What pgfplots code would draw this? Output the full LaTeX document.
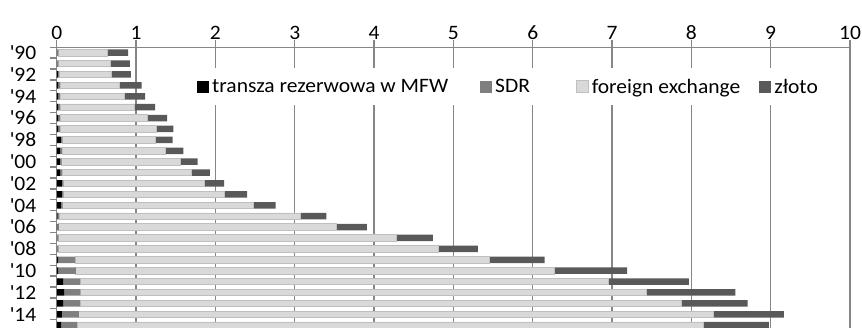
\documentclass[border=0pt]{standalone}
\usepackage{fontspec}
\setmainfont[FakeStretch=1.05]{Carlito}
\usepackage{pgfplots}
\usepackage{pgfplotstable}
\pgfplotsset{compat=1.18}
\definecolor{axgray}{HTML}{868686}
\definecolor{sdrc}{HTML}{7F7F7F}
\definecolor{fxc}{HTML}{D9D9D9}
\definecolor{fxd}{HTML}{BFBFBF}
\definecolor{goldc}{HTML}{595959}
\newcommand\cf{\fontsize{20.5bp}{24bp}\selectfont}
\pgfplotstableread{
y tr sdr fx gold
25 0 0.02 0.62 0.26
24 0 0.02 0.655 0.245
23 0.015 0.015 0.66 0.245
22 0.02 0.02 0.75 0.28
21 0.02 0.02 0.815 0.26
20 0.02 0.02 0.94 0.26
19 0.02 0.02 1.097 0.253
18 0.02 0.02 1.22 0.21
17 0.05 0.02 1.17 0.22
16 0.045 0.02 1.30 0.23
15 0.04 0.02 1.493 0.223
14 0.045 0.02 1.635 0.23
13 0.063 0.02 1.773 0.252
12 0.063 0.02 2.033 0.284
11 0.05 0.025 2.405 0.28
10 0.01 0.02 3.04 0.33
9 0.005 0.02 3.50 0.385
8 0 0.02 4.26 0.46
7 0 0.02 4.79 0.50
6 0.02 0.21 5.22 0.70
5 0.02 0.22 6.03 0.92
4 0.084 0.21 6.656 1.02
3 0.097 0.20 7.133 1.126
2 0.084 0.21 7.586 0.83
1 0.063 0.214 8.003 0.885
0 0.055 0.20 7.895 0.826
}\data
\begin{document}
\begin{tikzpicture}
\begin{axis}[
  xbar stacked,
  bar width=6.5bp,
  scale only axis,
  width=793.2bp, height=283.4bp,
  xmin=0, xmax=10, ymin=-0.5, ymax=25.5,
  axis x line=top, axis y line=left,
  axis line style={-, draw=axgray, line width=1.3bp},
  xtick={0,1,...,10},
  xmajorgrids,
  grid style={draw=axgray, line width=1.3bp},
  tick align=outside,
  major tick length=7bp,
  tick style={draw=axgray, line width=1.3bp},
  ytick={-0.5,0.5,...,25.5},
  yticklabels={,,\textquotesingle14,,\textquotesingle12,,\textquotesingle10,,\textquotesingle08,,\textquotesingle06,,\textquotesingle04,,\textquotesingle02,,\textquotesingle00,,\textquotesingle98,,\textquotesingle96,,\textquotesingle94,,\textquotesingle92,,\textquotesingle90},
  yticklabel style={yshift=-5.45bp, xshift=-10bp, font=\cf, text=black},
  xticklabel style={yshift=-3bp, font=\cf, text=black},
  /pgf/number format/assume math mode=true,
  legend columns=4,
  legend style={at={(0.1616,0.861)}, anchor=west, draw=none, fill=white,
    font=\cf, inner xsep=12bp, inner ysep=9bp,
    /tikz/every odd column/.append style={column sep=1bp},
    /tikz/column 2/.style={column sep=30bp},
    /tikz/column 4/.style={column sep=44bp},
    /tikz/column 6/.style={column sep=17bp}},
  legend image code/.code={\path[#1] (0bp,-6bp) rectangle (12bp,6bp);},
]
\addplot[fill=black, draw=none] table[x=tr, y=y] {\data};
\addplot[fill=sdrc, draw=none] table[x=sdr, y=y] {\data};
\addplot[fill=fxc, draw=fxd, line width=0.8bp] table[x=fx, y=y] {\data};
\addplot[fill=goldc, draw=none] table[x=gold, y=y] {\data};
\legend{transza rezerwowa w MFW, SDR, foreign exchange, złoto}
\end{axis}
\pgfresetboundingbox
\path[use as bounding box] (current axis.north west) ++(-56.8bp,47.25bp) rectangle ++(862bp,-328bp);
\end{tikzpicture}
\end{document}
